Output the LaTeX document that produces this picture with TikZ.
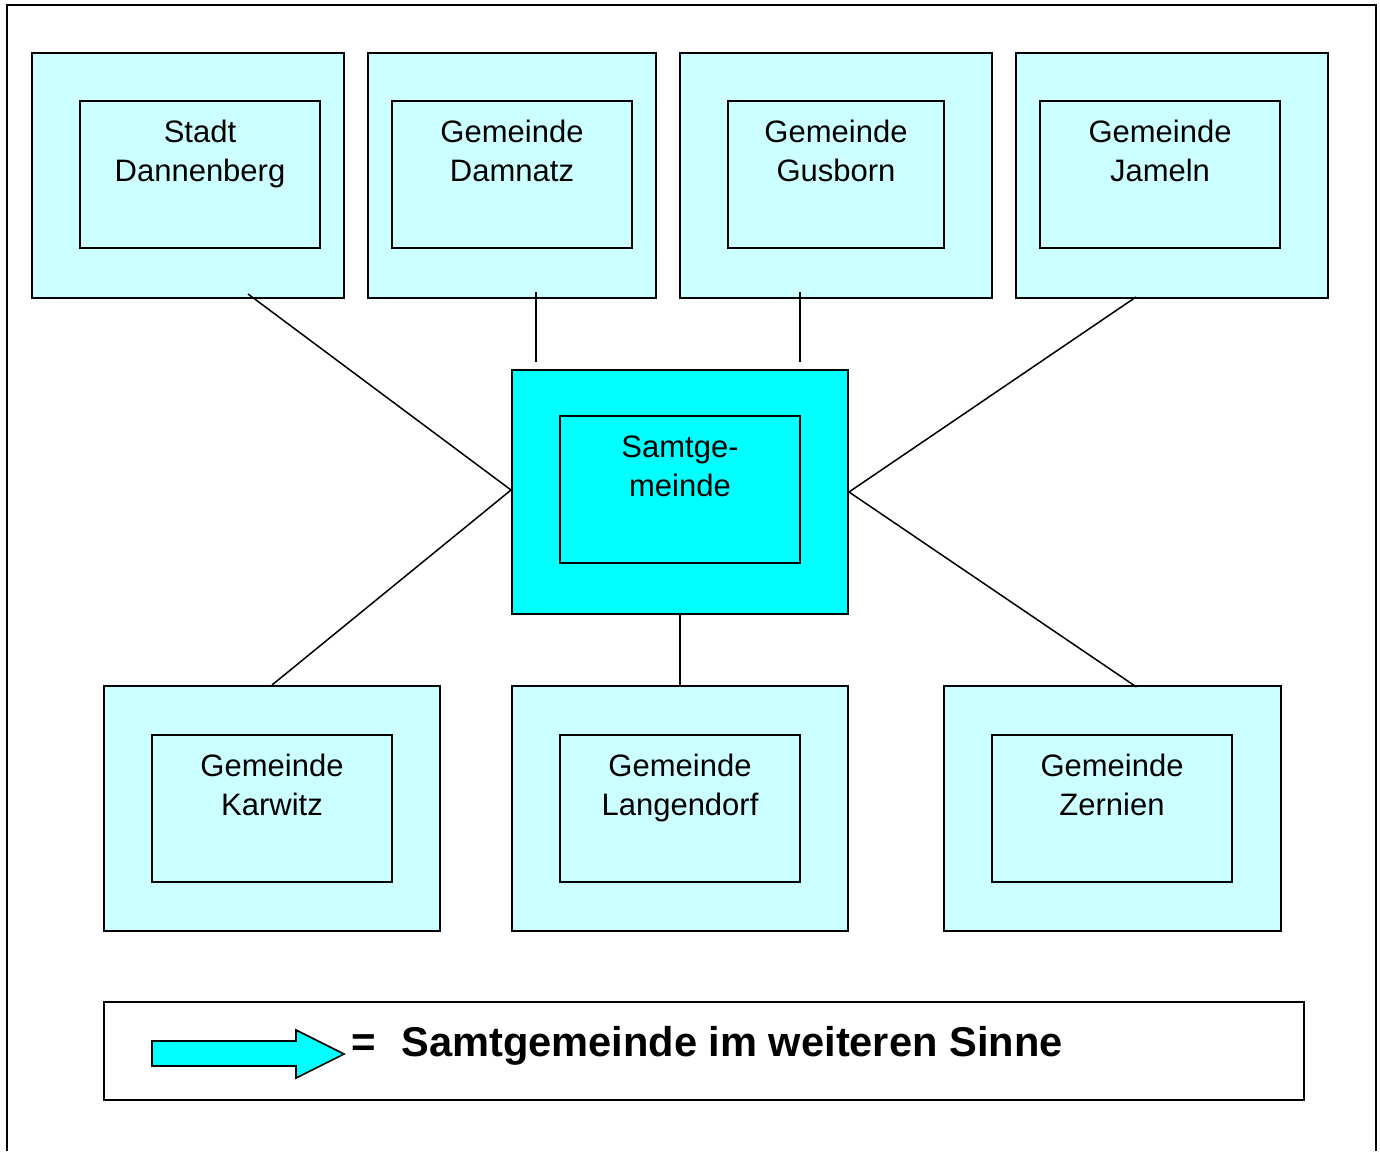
\documentclass[tikz,border=0pt]{standalone}
\usepackage{fontspec}
\setmainfont{Liberation Sans}
\definecolor{lightcyan}{HTML}{CCFFFF}
\definecolor{fullcyan}{HTML}{00FFFF}
\begin{document}
\begin{tikzpicture}[x=0.5pt,y=-0.5pt,
  outerbox/.style={draw, line width=1pt, fill=lightcyan, inner sep=0pt, minimum height=122.5pt},
  innerbox/.style={draw, line width=1pt, inner sep=0pt, minimum width=120pt, minimum height=73.5pt},
  boxtext/.style={anchor=north, align=center, inner sep=0pt, font=\fontsize{15.5}{19.5}\selectfont},
  link/.style={line width=0.75pt},
  frame/.style={line width=1pt}]
\useasboundingbox (0,0) rectangle (1380,1151);
\draw[frame] (7,1151) -- (7,5) -- (1376,5) -- (1376,1151);
% top row
\node[outerbox, minimum width=156pt] (b1) at (188,175.5) {};
\node[innerbox] (i1) at (200,174.5) {};
\node[boxtext] (t1) at (200,120) {Stadt\\Dannenberg};
\node[outerbox, minimum width=144pt] (b2) at (512,175.5) {};
\node[innerbox] (i2) at (512,174.5) {};
\node[boxtext] (t2) at (512,120) {Gemeinde\\Damnatz};
\node[outerbox, minimum width=156pt] (b3) at (836,175.5) {};
\node[innerbox, minimum width=108pt] (i3) at (836,174.5) {};
\node[boxtext] (t3) at (836,120) {Gemeinde\\Gusborn};
\node[outerbox, minimum width=156pt] (b4) at (1172,175.5) {};
\node[innerbox] (i4) at (1160,174.5) {};
\node[boxtext] (t4) at (1160,120) {Gemeinde\\Jameln};
% center
\node[outerbox, fill=fullcyan, minimum width=168pt, minimum height=122pt] (c) at (680,492) {};
\node[innerbox] (ci) at (680,489.5) {};
\node[boxtext] (ct) at (680,435) {Samtge-\\meinde};
% bottom row
\node[outerbox, minimum width=168pt] (b5) at (272,808.5) {};
\node[innerbox] (i5) at (272,808.5) {};
\node[boxtext] (t5) at (272,754) {Gemeinde\\Karwitz};
\node[outerbox, minimum width=168pt] (b6) at (680,808.5) {};
\node[innerbox] (i6) at (680,808.5) {};
\node[boxtext] (t6) at (680,754) {Gemeinde\\Langendorf};
\node[outerbox, minimum width=168.5pt] (b7) at (1112.5,808.5) {};
\node[innerbox] (i7) at (1112,808.5) {};
\node[boxtext] (t7) at (1112,754) {Gemeinde\\Zernien};
% connectors
\draw[link] ([xshift=30pt,yshift=2.5pt]b1.south) -- ([yshift=1pt]c.west);
\draw[link] ([xshift=12pt,yshift=3.5pt]b2.south) -- ([xshift=-72pt,yshift=3.5pt]c.north);
\draw[link] ([xshift=-18pt,yshift=3.5pt]b3.south) -- ([xshift=60pt,yshift=3.5pt]c.north);
\draw[link] ([xshift=-18pt,yshift=1pt]b4.south) -- (c.east);
\draw[link] (c.east) -- ([xshift=12pt,yshift=-1pt]b7.north);
\draw[link] ([yshift=1pt]c.west) -- (b5.north);
\draw[link] ([yshift=1pt]c.south) -- (b6.north);
% legend
\node[draw, line width=1pt, minimum width=600pt, minimum height=49pt, inner sep=0pt] (leg) at (704,1051) {};
\draw[line width=0.8pt, fill=fullcyan] (152,1041) -- (296,1041) -- (296,1030) -- (344,1054) -- (296,1078) -- (296,1066) -- (152,1066) -- cycle;
\node[anchor=base west, inner sep=0pt, font=\bfseries\fontsize{21}{25}\selectfont] (eq) at (351,1056) {=};
\node[anchor=base west, inner sep=0pt, font=\bfseries\fontsize{20.8}{25}\selectfont] (lt) at (401,1056) {Samtgemeinde im weiteren Sinne};
\end{tikzpicture}
\end{document}
